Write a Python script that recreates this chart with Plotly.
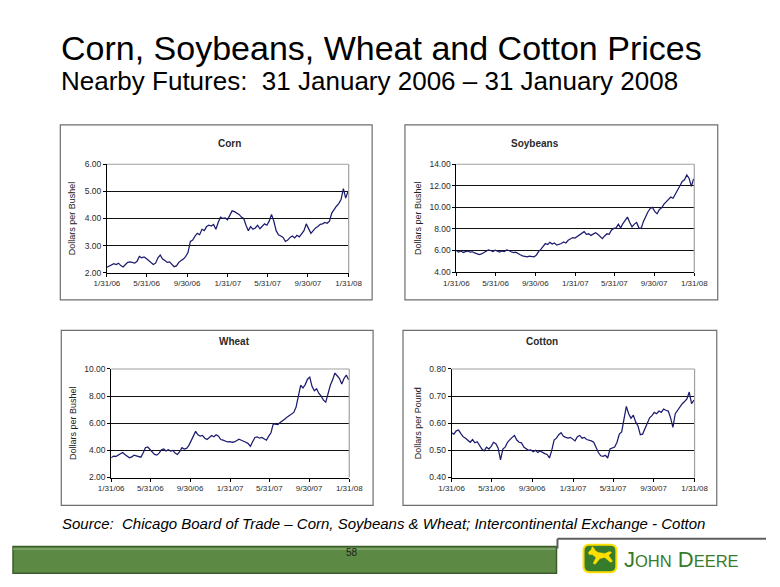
import pandas as pd
import plotly.graph_objects as go

# ---------------- data (weekly readings, $ per unit) ----------------
dates = pd.date_range("2006-01-31", periods=105, freq="7D")
x_tick_vals = ["2006-01-31", "2006-05-31", "2006-09-30", "2007-01-31",
               "2007-05-31", "2007-09-30", "2008-01-31"]
x_tick_text = ["1/31/06", "5/31/06", "9/30/06", "1/31/07", "5/31/07", "9/30/07", "1/31/08"]

corn = [2.20, 2.24, 2.28, 2.33, 2.30, 2.35, 2.26, 2.21, 2.30, 2.38,
        2.40, 2.37, 2.35, 2.42, 2.60, 2.55, 2.58, 2.52, 2.45, 2.38,
        2.30, 2.35, 2.55, 2.65, 2.50, 2.45, 2.38, 2.40, 2.30, 2.22,
        2.25, 2.38, 2.45, 2.50, 2.60, 2.75, 3.15, 3.20, 3.35, 3.45,
        3.40, 3.60, 3.55, 3.70, 3.75, 3.72, 3.78, 3.60, 3.85, 4.05,
        4.00, 4.02, 3.95, 4.10, 4.28, 4.25, 4.20, 4.15, 4.05, 4.00,
        3.75, 3.55, 3.70, 3.60, 3.65, 3.75, 3.62, 3.70, 3.80, 3.75,
        3.90, 4.15, 3.90, 3.55, 3.40, 3.35, 3.30, 3.15, 3.20, 3.30,
        3.35, 3.28, 3.38, 3.32, 3.45, 3.55, 3.80, 3.65, 3.45, 3.55,
        3.65, 3.70, 3.78, 3.80, 3.85, 3.82, 3.90, 4.20, 4.35, 4.45,
        4.55, 4.70, 5.10, 4.75, 5.00]

soybeans = [5.95, 5.85, 5.95, 5.82, 5.90, 5.95, 5.85, 5.88, 5.78, 5.70,
            5.62, 5.68, 5.80, 5.95, 6.05, 6.00, 5.90, 6.02, 5.92, 5.85,
            5.95, 5.90, 6.05, 6.00, 5.88, 5.80, 5.85, 5.70, 5.60, 5.50,
            5.45, 5.42, 5.48, 5.45, 5.42, 5.55, 5.90, 6.10, 6.40, 6.65,
            6.55, 6.75, 6.60, 6.70, 6.50, 6.55, 6.65, 6.80, 6.70, 6.95,
            7.10, 7.20, 7.15, 7.30, 7.50, 7.65, 7.75, 7.50, 7.55, 7.40,
            7.55, 7.65, 7.50, 7.30, 7.10, 7.35, 7.55, 7.50, 7.90, 8.05,
            8.10, 8.45, 8.10, 8.50, 8.75, 9.10, 8.60, 8.20, 8.45, 8.60,
            8.10, 8.05, 8.70, 9.20, 9.60, 9.90, 10.00, 9.60, 9.40, 9.80,
            9.95, 10.30, 10.50, 10.70, 10.95, 10.85, 11.20, 11.60, 12.00, 12.40,
            12.55, 13.00, 12.70, 11.95, 12.65]

wheat = [3.45, 3.58, 3.55, 3.65, 3.78, 3.85, 3.70, 3.55, 3.45, 3.52,
         3.65, 3.60, 3.55, 3.50, 3.80, 4.20, 4.25, 4.05, 3.85, 3.70,
         3.65, 3.80, 4.05, 4.10, 3.95, 4.05, 3.95, 4.00, 3.80, 3.70,
         3.90, 4.20, 4.10, 4.15, 4.35, 4.70, 5.00, 5.40, 5.15, 5.05,
         5.10, 4.90, 4.80, 4.95, 5.10, 5.00, 5.15, 5.05, 4.80, 4.75,
         4.70, 4.62, 4.65, 4.60, 4.62, 4.70, 4.82, 4.75, 4.70, 4.60,
         4.50, 4.30, 4.65, 4.95, 5.00, 4.90, 4.95, 4.85, 4.75, 5.05,
         5.30, 5.95, 5.95, 5.90, 6.05, 6.15, 6.30, 6.45, 6.55, 6.70,
         6.80, 7.20, 8.00, 8.80, 8.60, 8.85, 9.25, 9.40, 8.70, 8.40,
         8.55, 8.20, 8.00, 7.70, 7.55, 8.20, 8.80, 9.20, 9.70, 9.50,
         9.30, 8.90, 9.30, 9.55, 9.20]

cotton = [0.565, 0.560, 0.572, 0.575, 0.562, 0.550, 0.545, 0.538, 0.530, 0.540,
          0.528, 0.532, 0.520, 0.505, 0.498, 0.512, 0.505, 0.515, 0.530, 0.525,
          0.508, 0.465, 0.505, 0.512, 0.530, 0.540, 0.548, 0.555, 0.538, 0.530,
          0.528, 0.512, 0.505, 0.500, 0.502, 0.495, 0.500, 0.492, 0.498, 0.492,
          0.488, 0.485, 0.472, 0.500, 0.538, 0.545, 0.558, 0.565, 0.552, 0.548,
          0.545, 0.548, 0.540, 0.535, 0.550, 0.555, 0.545, 0.548, 0.540, 0.538,
          0.535, 0.530, 0.510, 0.492, 0.480, 0.478, 0.482, 0.472, 0.505, 0.508,
          0.512, 0.530, 0.560, 0.568, 0.620, 0.662, 0.635, 0.618, 0.630, 0.605,
          0.590, 0.558, 0.560, 0.580, 0.595, 0.620, 0.628, 0.640, 0.635, 0.645,
          0.640, 0.652, 0.648, 0.645, 0.620, 0.585, 0.635, 0.648, 0.660, 0.672,
          0.680, 0.690, 0.715, 0.672, 0.685]

panel_titles = ["Corn", "Soybeans", "Wheat", "Cotton"]
unit_titles = ["Dollars per Bushel", "Dollars per Bushel", "Dollars per Bushel", "Dollars per Pound"]
y_ranges = [[2, 6], [4, 14], [2, 10], [0.4, 0.8]]
y_dticks = [1, 2, 2, 0.1]

# ---------------- layout helpers ----------------
W, H = 780, 587
def px(x):
    return x / W
def py(y):
    return 1 - y / H

FONT = "Arial, Liberation Sans, sans-serif"
LINE = "#1c1c6e"

# plot areas (pixel boxes) and outer chart boxes
plot_boxes = [(97.3, 162, 347.7, 272.3), (459.3, 162, 705.7, 271.7),
              (101.7, 370.3, 348.3, 480.7), (454.3, 370.3, 706, 480.7)]
outer_boxes = [(49, 122, 372, 300), (406, 122, 730, 300),
               (50, 331, 373, 509), (404, 331, 729, 509)]
title_standoff = [7, 6, 6, 6]

series = [corn, soybeans, wheat, cotton]

fig = go.Figure()
shapes = []
annotations = []

for i in range(4):
    n = "" if i == 0 else str(i + 1)
    xa, ya = "x" + n, "y" + n
    fig.add_trace(go.Scatter(x=dates, y=series[i], mode="lines",
                             line=dict(color=LINE, width=1.25),
                             xaxis=xa, yaxis=ya, showlegend=False,
                             hoverinfo="x+y"))
    x0, y0, x1, y1 = plot_boxes[i]
    fig.layout["xaxis" + n] = dict(
        domain=[px(x0), px(x1)], anchor=ya, type="date",
        range=["2006-01-31", "2008-01-31"],
        tickvals=x_tick_vals, ticktext=x_tick_text,
        ticks="outside", ticklen=3, tickcolor="#000",
        showline=True, linecolor="#000", linewidth=1,
        showgrid=False, zeroline=False,
        tickfont=dict(family=FONT, size=8, color="#2a2a2a"))
    fig.layout["yaxis" + n] = dict(
        domain=[py(y1), py(y0)], anchor=xa,
        range=y_ranges[i], dtick=y_dticks[i], tick0=y_ranges[i][0],
        tickformat=".2f",
        ticks="outside", ticklen=3, tickcolor="#000",
        showline=True, linecolor="#000", linewidth=1,
        showgrid=True, gridcolor="#111", gridwidth=1, zeroline=False,
        title=dict(text=unit_titles[i], standoff=title_standoff[i],
                   font=dict(family=FONT, size=9, color="#222")),
        tickfont=dict(family=FONT, size=8.5, color="#2a2a2a"))
    # plot area frame: grey top and right border (drawn over the top gridline)
    shapes.append(dict(type="line", xref=xa + " domain", yref=ya + " domain",
                       x0=0, x1=1, y0=1, y1=1, line=dict(color="#a0a0a0", width=1.2),
                       layer="above"))
    shapes.append(dict(type="line", xref=xa + " domain", yref=ya + " domain",
                       x0=1, x1=1, y0=0, y1=1, line=dict(color="#a0a0a0", width=1.2),
                       layer="above"))
    # outer chart box
    bx0, by0, bx1, by1 = outer_boxes[i]
    shapes.append(dict(type="rect", xref="paper", yref="paper",
                       x0=px(bx0), x1=px(bx1), y0=py(by1), y1=py(by0),
                       line=dict(color="#6e6e6e", width=1.2), layer="below"))
    annotations.append(dict(text="<b>" + panel_titles[i] + "</b>", xref="paper", yref="paper",
                            x=px((bx0 + bx1) / 2), y=py(by0 + 11), showarrow=False,
                            font=dict(family=FONT, size=10, color="#2a2a2a")))

# Titles
annotations.append(dict(text="Corn, Soybeans, Wheat and Cotton Prices", xref="paper", yref="paper",
                        x=px(48), y=py(44), xanchor="left", yanchor="middle", showarrow=False,
                        font=dict(family=FONT, size=34, color="#000")))
annotations.append(dict(text="Nearby Futures:\u00a0\u00a031 January 2006 \u2013 31 January 2008",
                        xref="paper", yref="paper",
                        x=px(48), y=py(77), xanchor="left", yanchor="middle", showarrow=False,
                        font=dict(family=FONT, size=26, color="#000")))
annotations.append(dict(text="<i>Source:\u00a0\u00a0Chicago Board of Trade \u2013 Corn, Soybeans &amp; Wheat; "
                             "Intercontinental Exchange - Cotton</i>",
                        xref="paper", yref="paper",
                        x=px(49), y=py(527), xanchor="left", yanchor="middle", showarrow=False,
                        font=dict(family=FONT, size=15, color="#000")))

# Footer bar
shapes.append(dict(type="rect", xref="paper", yref="paper", x0=0, x1=px(563),
                   y0=py(578), y1=py(551), fillcolor="#5c8a44",
                   line=dict(color="#3d5c2c", width=1.5), layer="above"))
shapes.append(dict(type="line", xref="paper", yref="paper", x0=0, x1=px(562),
                   y0=py(553.5), y1=py(553.5), line=dict(color="#86a872", width=1.5)))
shapes.append(dict(type="line", xref="paper", yref="paper", x0=px(564), x1=1,
                   y0=py(543), y1=py(543), line=dict(color="#5e5e5e", width=2)))
shapes.append(dict(type="line", xref="paper", yref="paper", x0=px(564), x1=px(564),
                   y0=py(543), y1=py(553), line=dict(color="#5e5e5e", width=2)))
annotations.append(dict(text="58", xref="paper", yref="paper", x=px(351), y=py(565),
                        showarrow=False, font=dict(family=FONT, size=10, color="#1f1f1f")))

# John Deere logo
def path_from(points, close=True):
    s = "M " + " L ".join(f"{px(a):.5f},{py(b):.5f}" for a, b in points)
    return s + (" Z" if close else "")

lx0, ly0, lx1, ly1, r = 591, 549, 625, 577, 6
rr = (f"M {px(lx0 + r):.5f},{py(ly0):.5f} L {px(lx1 - r):.5f},{py(ly0):.5f} "
      f"Q {px(lx1):.5f},{py(ly0):.5f} {px(lx1):.5f},{py(ly0 + r):.5f} "
      f"L {px(lx1):.5f},{py(ly1 - r):.5f} Q {px(lx1):.5f},{py(ly1):.5f} {px(lx1 - r):.5f},{py(ly1):.5f} "
      f"L {px(lx0 + r):.5f},{py(ly1):.5f} Q {px(lx0):.5f},{py(ly1):.5f} {px(lx0):.5f},{py(ly1 - r):.5f} "
      f"L {px(lx0):.5f},{py(ly0 + r):.5f} Q {px(lx0):.5f},{py(ly0):.5f} {px(lx0 + r):.5f},{py(ly0):.5f} Z")
shapes.append(dict(type="path", xref="paper", yref="paper", path=rr,
                   fillcolor="#367c2b", line=dict(color="#ffde00", width=2)))
deer = [(596, 557), (599, 554), (600, 551), (602, 553), (603, 555), (606, 557), (613, 558),
        (618, 556), (620, 557), (617, 560), (621, 566), (619, 567), (613, 562), (608, 563),
        (603, 569), (601, 568), (604, 562), (600, 559), (597, 559)]
shapes.append(dict(type="path", xref="paper", yref="paper", path=path_from(deer),
                   fillcolor="#ffde00", line=dict(color="#ffde00", width=0.5)))
annotations.append(dict(text="J<span style='font-size:16.5px'>OHN</span> D<span style='font-size:16.5px'>EERE</span>",
                        xref="paper", yref="paper", x=px(631), y=py(564), xanchor="left",
                        yanchor="middle", showarrow=False,
                        font=dict(family=FONT, size=22, color="#367c2b")))

fig.update_layout(width=W, height=H, margin=dict(l=0, r=0, t=0, b=0),
                  paper_bgcolor="#ffffff", plot_bgcolor="#ffffff",
                  shapes=shapes, annotations=annotations, showlegend=False,
                  font=dict(family=FONT))

fig.write_html("out.html")
